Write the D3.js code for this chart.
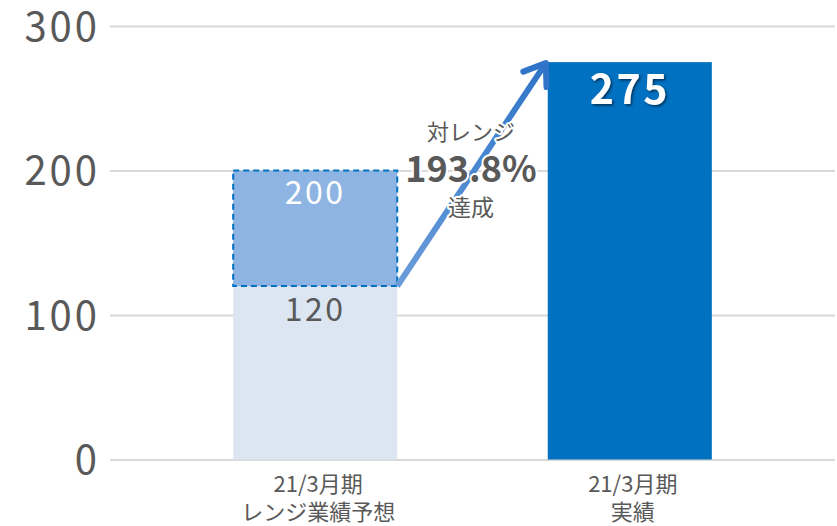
<!DOCTYPE html>
<html><head><meta charset="utf-8">
<script src="https://cdn.jsdelivr.net/npm/d3@7"></script>
<style>
html,body{margin:0;padding:0;background:#fff;}
svg{display:block;font-family:"Noto Sans CJK JP","Noto Sans",sans-serif;}
</style></head><body>
<script>
const categories = ["21/3月期\nレンジ業績予想", "21/3月期\n実績"];
const rangeLow = [120, null];
const rangeHigh = [200, null];
const actual = [null, 275];
const yTicks = [0, 100, 200, 300];
const achievementLines = ["対レンジ", "193.8%", "達成"];

const W = 837, H = 526;
const svg = d3.select("body").append("svg").attr("width", W).attr("height", H);

const y = d3.scaleLinear().domain([0, 300]).range([459.5, 26]);
const x = d3.scaleBand().domain(categories).range([158, 787]).paddingInner(0.4785).paddingOuter(0.239);
const gridX0 = 110, gridX1 = 835;

const defs = svg.append("defs");
const grad = defs.append("linearGradient").attr("id","arrowGrad")
  .attr("gradientUnits","userSpaceOnUse")
  .attr("x1", x.range()[0]).attr("y1", y(120)).attr("x2", x(categories[1])).attr("y2", y(275));
grad.append("stop").attr("offset","0%").attr("stop-color","#9dbfe8");
grad.append("stop").attr("offset","100%").attr("stop-color","#2f74c8");
const shadow = defs.append("filter").attr("id","ts").attr("x","-20%").attr("y","-20%").attr("width","140%").attr("height","140%");
shadow.append("feDropShadow").attr("dx",1.5).attr("dy",1.5).attr("stdDeviation",1).attr("flood-color","#000").attr("flood-opacity",0.55);

// grid + y axis
const yAxis = d3.axisLeft(y).tickValues(yTicks).tickSize(0).tickPadding(10);
const gy = svg.append("g").attr("transform", `translate(${gridX0},0)`).call(yAxis);
gy.select(".domain").remove();
gy.selectAll(".tick line").attr("x2", gridX1 - gridX0).attr("stroke", "#d9d9d9").attr("stroke-width", 2);
gy.selectAll(".tick text").attr("fill", "#595959").attr("font-size", 40).attr("font-weight", 400)
  .attr("font-family", "'Noto Sans CJK JP',sans-serif").attr("x", -10).attr("dy", "0.36em").attr("letter-spacing", 3);

// bars
const bw = x.bandwidth();
categories.forEach((c, i) => {
  if (rangeLow[i] != null) {
    svg.append("rect").attr("x", x(c)).attr("width", bw)
      .attr("y", y(rangeLow[i])).attr("height", y(0) - y(rangeLow[i])).attr("fill", "#dce6f2");
    svg.append("rect").attr("x", x(c)).attr("width", bw)
      .attr("y", y(rangeHigh[i])).attr("height", y(rangeLow[i]) - y(rangeHigh[i]))
      .attr("fill", "#8eb4e3").attr("stroke", "#0070c0").attr("stroke-width", 2).attr("stroke-dasharray", "6,4");
    svg.append("text").attr("x", x(c) + bw/2).attr("y", y(rangeHigh[i]) + 22).attr("dy","0.35em")
      .attr("text-anchor","middle").attr("fill","#fff").attr("font-size",32).attr("letter-spacing",2.5).text(rangeHigh[i]);
    svg.append("text").attr("x", x(c) + bw/2).attr("y", y(rangeLow[i]) + 24).attr("dy","0.35em")
      .attr("text-anchor","middle").attr("fill","#595959").attr("font-size",32).attr("letter-spacing",2.5).text(rangeLow[i]);
  }
  if (actual[i] != null) {
    svg.append("rect").attr("x", x(c)).attr("width", bw)
      .attr("y", y(actual[i])).attr("height", y(0) - y(actual[i])).attr("fill", "#0070c0");
    svg.append("text").attr("x", x(c) + bw/2).attr("y", y(actual[i]) + 28).attr("dy","0.35em")
      .attr("text-anchor","middle").attr("fill","#fff").attr("font-size",41).attr("font-weight","bold")
      .attr("letter-spacing",2.5).attr("filter","url(#ts)").text(actual[i]);
  }
  const lines = c.split("\n");
  const t = svg.append("text").attr("text-anchor","middle").attr("fill","#595959").attr("font-size",22);
  lines.forEach((l, k) => t.append("tspan").attr("x", x(c) + bw/2 + 3).attr("y", 492 + k*28).text(l));
});

// arrow
const x0 = x(categories[0]) + bw, y0 = y(rangeLow[0]);
const x1 = x(categories[1]) - 2, y1 = y(actual[1]) + 1;
const ang = Math.atan2(y1 - y0, x1 - x0);
const L = 24, spread = 0.62;
svg.append("line").attr("x1", x0).attr("y1", y0).attr("x2", x1 - 2*Math.cos(ang)).attr("y2", y1 - 2*Math.sin(ang))
  .attr("stroke","url(#arrowGrad)").attr("stroke-width",6).attr("stroke-linecap","butt");
const head = d3.path();
head.moveTo(x1 - L*Math.cos(ang - spread), y1 - L*Math.sin(ang - spread));
head.lineTo(x1, y1);
head.lineTo(x1 - L*Math.cos(ang + spread), y1 - L*Math.sin(ang + spread));
svg.append("path").attr("d", head.toString()).attr("fill","none").attr("stroke","#2f74c8")
  .attr("stroke-width",6).attr("stroke-linecap","round").attr("stroke-linejoin","round");

// achievement text
const cx = 471;
const tg = svg.append("g").attr("fill","#595959").attr("text-anchor","middle")
  .attr("stroke","#fff").attr("stroke-width",4).attr("paint-order","stroke").attr("stroke-linejoin","round");
tg.append("text").attr("x", cx).attr("y", 140).attr("font-size",22).text(achievementLines[0]);
tg.append("text").attr("x", cx).attr("y", 182).attr("font-size",36).attr("font-weight","bold").text(achievementLines[1]);
tg.append("text").attr("x", cx).attr("y", 216).attr("font-size",23).text(achievementLines[2]);
</script>
</body></html>
